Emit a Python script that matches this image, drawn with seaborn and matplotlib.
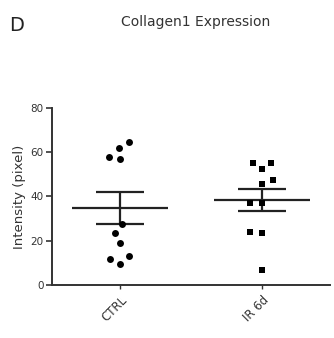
import matplotlib
matplotlib.use("Agg")
import matplotlib.pyplot as plt
import numpy as np
import pandas as pd
import seaborn as sns

# values
groups = ["CTRL", "IR 6d"]
ctrl_vals = [64.7, 62.0, 58.0, 57.0, 27.6, 23.5, 19.0, 13.0, 11.8, 9.5]
ir_vals = [55.3, 55.3, 52.3, 47.2, 45.6, 37.2, 37.2, 24.1, 23.4, 6.8]
yticks = [0, 20, 40, 60, 80]

df = pd.DataFrame({
    "group": [groups[0]] * len(ctrl_vals) + [groups[1]] * len(ir_vals),
    "value": ctrl_vals + ir_vals,
})

sns.set_style("ticks")
plt.rcParams["font.family"] = ["DejaVu Sans"]

fig = plt.figure(figsize=(3.34, 3.38), dpi=100)
ax = fig.add_axes([0.156, 0.157, 0.832, 0.524])
ax.set_xlim(-0.48, 1.48)
ax.set_ylim(0, 80)

markers = {"CTRL": "o", "IR 6d": "s"}
for g in groups:
    sub = df[df["group"] == g]
    # lay out the swarm with a wide spacing, like the original arrangement
    sns.swarmplot(data=sub, x="group", y="value", order=groups, ax=ax,
                  color="black", marker=markers[g], size=8, linewidth=0)

ax.set_xlim(-0.48, 1.48)
ax.set_ylim(0, 80)
fig.canvas.draw()
# freeze swarm positions, then shrink the markers
for coll in ax.collections:
    if "draw" in coll.__dict__:
        del coll.draw
    coll.set_sizes([5.0 ** 2])

# mean +/- SEM
for i, g in enumerate(groups):
    v = df.loc[df["group"] == g, "value"].to_numpy()
    m = v.mean()
    se = v.std(ddof=1) / np.sqrt(len(v))
    ax.hlines(m, i - 0.34, i + 0.34, color="#222222", lw=1.6)
    ax.hlines([m - se, m + se], i - 0.17, i + 0.17, color="#222222", lw=1.6)
    ax.vlines(i, m - se, m + se, color="#222222", lw=1.6)

ax.set_xlim(-0.48, 1.48)
ax.set_ylim(0, 80)
ax.set_yticks(yticks)
ax.set_xlabel("")
ax.set_ylabel("Intensity (pixel)", fontsize=9.5, color="#333333", labelpad=3)
ax.tick_params(axis="y", labelsize=7.5, colors="#333333", length=4, width=1.2, pad=2)
ax.tick_params(axis="x", labelsize=8.5, colors="#333333", length=3, width=1.0)
plt.setp(ax.get_xticklabels(), rotation=45, ha="right", rotation_mode="anchor")
for s in ["left", "bottom"]:
    ax.spines[s].set_linewidth(1.4)
    ax.spines[s].set_color("#333333")
sns.despine(ax=ax)

fig.text(0.587, 0.935, "Collagen1 Expression", fontsize=10, color="#333333",
         ha="center", va="center")
fig.text(0.028, 0.926, "D", fontsize=14, color="#222222", ha="left", va="center")

fig.savefig("out.png", dpi=100)
